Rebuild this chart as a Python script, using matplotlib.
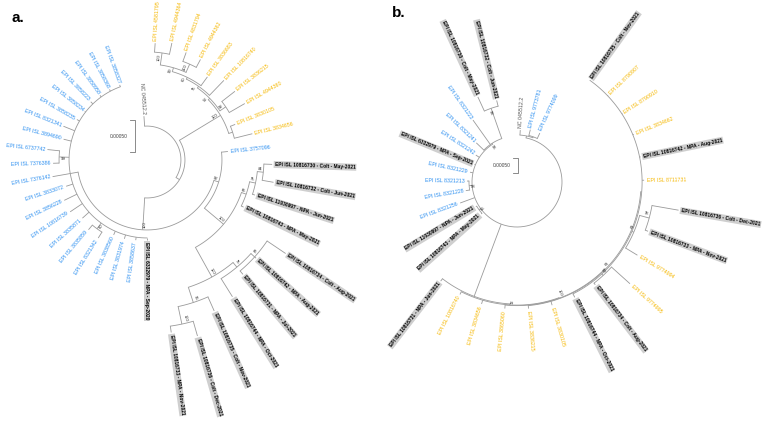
import numpy as np
import matplotlib
matplotlib.use("Agg")
import matplotlib.pyplot as plt

plt.rcParams["font.family"] = ["Liberation Sans", "DejaVu Sans"]

# Trees as Newick, branch lengths in 1e-4 substitutions/site, internal labels = support
tree_a = """
((((3858327:0.31,3858368:0.31,3858958:0.31,3858223:0.47,3858234:0.16,3858235:0.47,
8321341:1.9,3894690:1.25,(6737742:1.9,7376386:0.94)99:1.56,7376142:2.8,3833072:1.1,
3856228:2.2,10816739:2.3,3835871:1.4,(3835859:0.94,8321342:1.1)60:1.1,3838560:0.63,
3831974:0.63,3858637:0.47,6332979:0.31):1.25,
(((((10816733:1.0,10816736:2.4)100:2.8,10816735:2.4)95:2.5,
(10816744:3.35,(10816731:0.7,10816742:0.3,10816734:3.5)65:0.78)75:0.94)100:5.3,
(10816743:0.4,(11030997:0.4,(10816732:1.8,10816730:1.3)84:0.94)75:0.94)65:0.78)100:3.9,
3757096:1.0)92:0.78)100:5.0,
((3834656:2.9,3830105:0.8):0.63,
((4944360:2.8,3836215:2.6)92:1.1,
(10816740:3.25,(3836683:1.7,((4944362:1.4,4831794:1.5)100:1.4,
(4944364:1.8,4581795:1.4)100:1.9)90:0.63)60:0.31)75:0.31)52:0.31)100:7.5):0.63,
NC_045512.2:1.56):5.3;
"""

tree_b = """
(((10816732:2.0,10816730:5.2)98:10.7,8321223:10.0,8321241:3.5)96:0.33,
8321242:1.4,6332979:0.33,8321229:1.0,(8321213:0.67,8321228:1.3)98:1.0,8321256:5.2,
(11030997:0.33,10816743:0.33)56:0.67,
(10816731:1.0,(10816740:1.0,3834656:1.3,(3865060:1.17,(3836215:1.0,3830105:1.33,
(10816744:1.3,(10816734:0.67,9774995:8.3)59:0.67,
(9774994:4.6,(10816733:1.0,10816736:9.0)78:3.3)67:0.67,
8711731:0.67,10816742:0.33,3834662:0.33,8790910:0.2,8790907:0.2,10816735:0.0):0.33
)67:0.17)100:0.17)72:0.33):25.7,
((9774099:2.0,9773781:2.0):0.33,NC_045512.2:1.67):0.67):15.0;
"""

yellow_a = ["4581795", "4944364", "4831794", "4944362", "3836683", "10816740",
            "3836215", "4944360", "3830105", "3834656"]
yellow_b = ["8711731", "3834662", "8790910", "8790907", "10816740", "3834656",
            "3865060", "3836215", "3830105", "9774995", "9774994"]

highlight_a = {
    "10816730": "Colt - May-2021", "10816732": "Colt - Jun-2021",
    "11030997": "NPA - Jun-2021", "10816743": "NPA - May-2021",
    "10816734": "Colt - Aug-2021", "10816742": "NPA - Aug-2021",
    "10816731": "NPA - Jul-2021", "10816744": "NPA - Oct-2021",
    "10816735": "Colt - Nov-2021", "10816736": "Colt - Dec-2021",
    "10816733": "NPA - Nov-2021", "6332979": "NPA - Sep-2020",
}
highlight_b = dict(highlight_a)
highlight_b["6332979"] = "NPA - Sep-2021"
highlight_b["10816731"] = "NPA - Jun-2021"

BLUE = "#2a8ef0"
YELLOW = "#f5b700"
LINE = "#9a9a9a"


def parse_newick(text):
    s = "".join(text.split())
    pos = 0

    def node():
        nonlocal pos
        children = []
        if s[pos] == "(":
            pos += 1
            while True:
                children.append(node())
                if s[pos] == ",":
                    pos += 1
                    continue
                pos += 1  # ')'
                break
        start = pos
        while pos < len(s) and s[pos] not in ":,);":
            pos += 1
        name = s[start:pos]
        length = 0.0
        if pos < len(s) and s[pos] == ":":
            pos += 1
            start = pos
            while s[pos] not in ",);":
                pos += 1
            length = float(s[start:pos])
        return {"name": name, "len": length, "children": children}

    return node()


def layout(tree, start_deg, step_deg, px_per_unit):
    tips = []

    def walk(n, parent_r):
        n["r"] = parent_r + n["len"] * px_per_unit
        n["pr"] = parent_r
        if not n["children"]:
            n["ang"] = start_deg + len(tips) * step_deg
            tips.append(n)
        else:
            for c in n["children"]:
                walk(c, n["r"])
            n["ang"] = 0.5 * (n["children"][0]["ang"] + n["children"][-1]["ang"])

    walk(tree, 0.0)
    return tree


def xy(cx, cy, r, ang):
    a = np.deg2rad(ang)
    return cx + r * np.cos(a), cy - r * np.sin(a)


def put_text(ax, cx, cy, r, ang, s, inward=False, **kw):
    x, y = xy(cx, cy, r, ang)
    a = ang % 360
    if 90 < a < 270:
        rot = a - 180
        ha = "left" if inward else "right"
    else:
        rot = a if a < 90 else a - 360
        ha = "right" if inward else "left"
    ax.text(x, y, s, rotation=rot, rotation_mode="anchor", ha=ha, va="center", **kw)


def draw_tree(ax, tree, cx, cy, yellow, highlight):
    def walk(n, is_root):
        if not is_root:
            x0, y0 = xy(cx, cy, n["pr"], n["ang"])
            x1, y1 = xy(cx, cy, n["r"], n["ang"])
            ax.plot([x0, x1], [y0, y1], color=LINE, lw=0.6, solid_capstyle="butt")
        if n["children"]:
            t = np.linspace(n["children"][0]["ang"], n["children"][-1]["ang"], 80)
            px, py = xy(cx, cy, n["r"], t)
            ax.plot(px, py, color=LINE, lw=0.6)
            if n["name"]:
                put_text(ax, cx, cy, n["r"] - 1.5, n["ang"] + 1.5, n["name"],
                         inward=True, fontsize=3.0, color="#222222")
            for c in n["children"]:
                walk(c, False)
        else:
            name = n["name"]
            r = n["r"] + 2.5
            if name.startswith("NC_"):
                put_text(ax, cx, cy, r, n["ang"], name.replace("_", " "),
                         fontsize=3.8, color="#555555")
            elif name in highlight:
                put_text(ax, cx, cy, r, n["ang"],
                         f"EPI ISL {name} - {highlight[name]}",
                         fontsize=3.5, color="black", weight="bold",
                         bbox=dict(boxstyle="square,pad=0.2", fc="#cfcfcf", ec="none"))
            else:
                col = YELLOW if name in yellow else BLUE
                put_text(ax, cx, cy, r, n["ang"], f"EPI ISL {name}",
                         fontsize=3.8, color=col)

    walk(tree, True)


def scale_bar(ax, x, y_top, length_px, label):
    tick = 5
    ax.plot([x - tick, x, x, x - tick], [y_top, y_top, y_top + length_px, y_top + length_px],
            color="#777777", lw=0.6)
    ax.text(x - tick - 2, y_top + length_px / 2, label, ha="right", va="center",
            fontsize=3.5, color="#444444")


fig = plt.figure(figsize=(7.82, 4.29), dpi=100)
ax = fig.add_axes([0, 0, 1, 1])
ax.set_xlim(0, 782)
ax.set_ylim(429, 0)
ax.axis("off")

ta = layout(parse_newick(tree_a), 110, 8.0, 6.4)
draw_tree(ax, ta, 147, 160, yellow_a, highlight_a)
scale_bar(ax, 135, 120, 0.0005 / 1e-4 * 6.4, "0.00050")

tb = layout(parse_newick(tree_b), 104, 10.7, 3.0)
draw_tree(ax, tb, 517, 182, yellow_b, highlight_b)
scale_bar(ax, 518, 158, 0.0005 / 1e-4 * 3.0, "0.00050")

ax.text(12, 18, "a.", fontsize=11, fontweight="bold", va="center")
ax.text(392, 13, "b.", fontsize=11, fontweight="bold", va="center")

fig.savefig("out.png", dpi=100)
plt.close(fig)
